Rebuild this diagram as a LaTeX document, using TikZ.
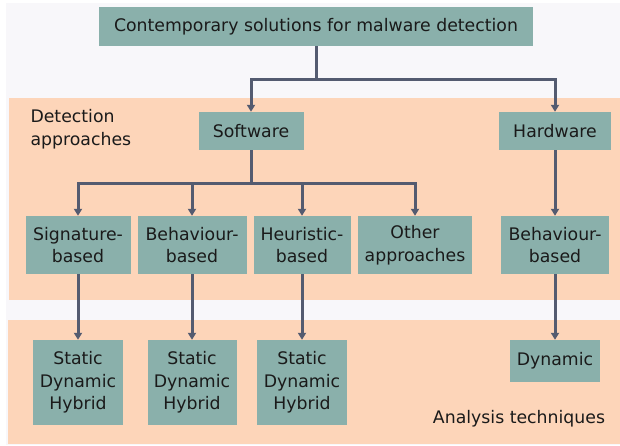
\documentclass[tikz,border=0pt]{standalone}
\usepackage{fontspec}
\setmainfont{DejaVu Sans}
\usetikzlibrary{arrows.meta}

\definecolor{boxteal}{HTML}{8AB0AB}
\definecolor{peach}{HTML}{FDD5B9}
\definecolor{bggray}{HTML}{F8F7FA}
\definecolor{linegray}{HTML}{545B70}
\definecolor{textdark}{HTML}{1A1A1A}

\tikzset{
  box/.style={fill=boxteal, inner sep=0pt, align=center, text=textdark,
              font=\fontsize{17.3}{22.5}\selectfont},
  conn/.style={draw=linegray, line width=3pt, -{Triangle[length=7pt,width=8pt]}},
  label/.style={text=textdark, align=left, font=\fontsize{17.3}{22.5}\selectfont},
}

\begin{document}
\begin{tikzpicture}[x=1pt,y=-1pt]
  \useasboundingbox (0,0) rectangle (620,445);
  % background and bands
  \fill[bggray] (6,3)  rectangle (620,445);
  \fill[peach]  (9,98) rectangle (620,300);
  \fill[peach]  (8,320) rectangle (620,444);

  % nodes
  \node[box,minimum width=434pt,minimum height=39pt] (root) at (316,26.5) {Contemporary solutions for malware detection};
  \node[box,minimum width=105pt,minimum height=38pt] (sw)   at (251,131)  {Software};
  \node[box,minimum width=112pt,minimum height=38pt] (hw)   at (555,131)  {Hardware};

  \node[box,minimum width=105pt,minimum height=58pt] (sig)  at (78,245)  {Signature-\\based};
  \node[box,minimum width=109pt,minimum height=58pt] (beh)  at (192,245) {Behaviour-\\based};
  \node[box,minimum width=97pt, minimum height=58pt] (heu)  at (302,245) {Heuristic-\\based};
  \node[box,minimum width=114pt,minimum height=58pt] (oth)  at (415,245) {Other\\approaches};
  \node[box,minimum width=108pt,minimum height=58pt] (hwb)  at (555,245) {Behaviour-\\based};

  \node[box,minimum width=90pt,minimum height=85pt] (sigt) at (78,382.5)  {Static\\Dynamic\\Hybrid};
  \node[box,minimum width=89pt,minimum height=85pt] (beht) at (192,382.5) {Static\\Dynamic\\Hybrid};
  \node[box,minimum width=90pt,minimum height=85pt] (heut) at (302,382.5) {Static\\Dynamic\\Hybrid};
  \node[box,minimum width=90pt,minimum height=42pt] (dyn)  at (555,361)   {Dynamic};

  \node[label,anchor=west] (det) at (27,129)  {Detection\\approaches};
  \node[label]             (ana) at (519,419) {Analysis techniques};

  % connectors
  \coordinate (j1) at (316,79);
  \coordinate (j2) at (251,183);
  \draw[linegray,line width=3pt] (root.south) -- (j1);
  \draw[conn] (j1) -| (sw.north);
  \draw[conn] (j1) -| (hw.north);
  \draw[linegray,line width=3pt] (sw.south) -- (j2);
  \foreach \t in {sig,beh,heu,oth}
    \draw[conn] (j2) -| (\t.north);
  \draw[conn] (hw)  -- (hwb);
  \draw[conn] (sig) -- (sigt);
  \draw[conn] (beh) -- (beht);
  \draw[conn] (heu) -- (heut);
  \draw[conn] (hwb) -- (dyn);
\end{tikzpicture}
\end{document}
